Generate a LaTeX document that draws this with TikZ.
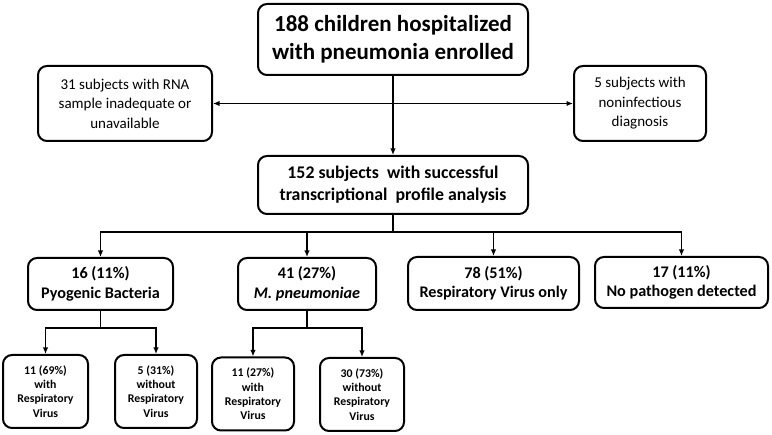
\documentclass[tikz,border=0pt]{standalone}
\usepackage{fontspec}
\setmainfont{Carlito}
\usetikzlibrary{arrows.meta}
\tikzset{
  box/.style={draw, line width=2pt, rounded corners=9pt, align=center, inner sep=2pt},
  bigtxt/.style={font=\bfseries\fontsize{23}{28}\selectfont},
  sidetxt/.style={font=\fontsize{15}{19.5}\selectfont},
  midtxt/.style={font=\bfseries\fontsize{17.8}{22}\selectfont},
  grptxt/.style={font=\bfseries\fontsize{16.2}{19.5}\selectfont},
  subtxt/.style={font=\bfseries\fontsize{11.8}{14.3}\selectfont},
  link/.style={line width=1.5pt, -{Latex[length=6.5pt,width=5.5pt]}},
}
\begin{document}
\begin{tikzpicture}[x=1pt, y=-1pt]
  \useasboundingbox (0,0) rectangle (772,435);
  \draw
    (393,39.5) node[box, bigtxt, minimum width=270, minimum height=71] (top)
      {188 children hospitalized\\with pneumonia enrolled}
    (125,103.5) node[box, sidetxt, minimum width=174, minimum height=75] (left)
      {31 subjects with RNA\\sample inadequate or\\unavailable}
    (640,103.5) node[box, sidetxt, minimum width=132, minimum height=75] (right)
      {5 subjects with\\noninfectious\\diagnosis}
    (393,185) node[box, midtxt, minimum width=270, minimum height=58] (mid)
      {152 subjects \ with successful\\transcriptional \ profile analysis}
    (100.5,284) node[box, grptxt, minimum width=145, minimum height=52] (pyo)
      {16 (11\%)\\Pyogenic Bacteria}
    (307,284) node[box, grptxt, minimum width=138, minimum height=52] (myco)
      {41 (27\%)\\\textit{M. pneumoniae}}
    (493.5,283.5) node[box, grptxt, minimum width=171, minimum height=53] (resp)
      {78 (51\%)\\Respiratory Virus only}
    (681.5,282.5) node[box, grptxt, minimum width=173, minimum height=51] (none)
      {17 (11\%)\\No pathogen detected}
    (45.5,391.5) node[box, subtxt, minimum width=85, minimum height=73] (pyowith)
      {11 (69\%)\\with\\Respiratory\\Virus}
    (156,391.5) node[box, subtxt, minimum width=82, minimum height=73] (pyowo)
      {5 (31\%)\\without\\Respiratory\\Virus}
    (253,394) node[box, subtxt, minimum width=82, minimum height=73] (mycowith)
      {11 (27\%)\\with\\Respiratory\\Virus}
    (362,394.5) node[box, subtxt, minimum width=84, minimum height=73] (mycowo)
      {30 (73\%)\\without\\Respiratory\\Virus};
  % split points
  \coordinate (exc) at (top.center |- left.east);
  \coordinate (grp) at (393,232);
  \coordinate (pyosplit) at ([yshift=-17pt]pyo.south);
  \coordinate (mycosplit) at ([yshift=-17pt]myco.south);
  \begin{scope}[link]
    \draw (top) -- (mid);
    \draw (exc) -- (left);
    \draw (exc) -- (right);
    \draw[-] (mid) -- (grp);
    \draw (grp) -| (pyo);
    \draw (grp) -| (myco);
    \draw (grp) -| (resp);
    \draw (grp) -| (none);
    \draw[-] (pyo) -- (pyosplit);
    \draw (pyosplit) -| (pyowith);
    \draw (pyosplit) -| (pyowo);
    \draw[-] (myco) -- (mycosplit);
    \draw (mycosplit) -| (mycowith);
    \draw (mycosplit) -| (mycowo);
  \end{scope}
\end{tikzpicture}
\end{document}
